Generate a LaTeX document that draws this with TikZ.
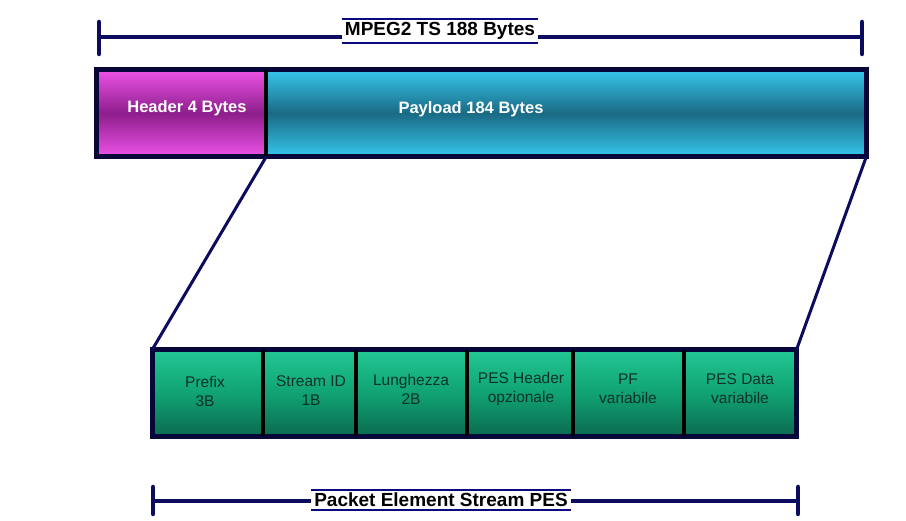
\documentclass[tikz,border=0pt]{standalone}
\usepackage{fontspec}
\setmainfont{Liberation Sans}
\definecolor{navy}{HTML}{0C0C5E}
\definecolor{frame}{HTML}{07073A}
\definecolor{pinkA}{HTML}{EC52E6}
\definecolor{pinkB}{HTML}{8E1E8C}
\definecolor{cyanA}{HTML}{36C6EC}
\definecolor{cyanB}{HTML}{1A6A84}
\definecolor{greenA}{HTML}{22C793}
\definecolor{greenB}{HTML}{10A274}
\definecolor{greenC}{HTML}{0B6A4E}
\definecolor{celltext}{HTML}{0A3326}
\begin{document}
\begin{tikzpicture}[x=1pt,y=-1pt,
  dimline/.style={draw=navy, line width=3.5pt},
  dimcap/.style={draw=navy, line width=4.5pt, line cap=round},
  dimlabel/.style={fill=white, inner xsep=3pt, inner ysep=3pt,
    font=\bfseries\fontsize{19}{21}\selectfont},
  labelrule/.style={draw=navy!80!blue, line width=2pt},
  outerbar/.style={draw=frame, line width=5pt},
  hdrseg/.style={anchor=north west, inner sep=0pt,
    top color=pinkA, bottom color=pinkA, middle color=pinkB},
  payseg/.style={anchor=north west, inner sep=0pt,
    top color=cyanA, bottom color=cyanA, middle color=cyanB},
  cell/.style={anchor=north west, inner sep=0pt, minimum height=86pt,
    top color=greenA, bottom color=greenC, middle color=greenB},
  celllabel/.style={align=center, text=celltext, font=\fontsize{15.5}{19}\selectfont},
  barlabel/.style={text=white, font=\bfseries\fontsize{16.5}{18}\selectfont},
  divider/.style={draw=black, line width=4pt},
  zoomline/.style={draw=navy, line width=3pt}
]
\useasboundingbox[fill=white] (0,0) rectangle (906,521);

% ---- total TS packet length ----
\coordinate (tsL) at (99,37);
\coordinate (tsR) at (862,37);
\node[dimlabel] (tslab) at (440,31) {MPEG2 TS 188 Bytes};
\draw[dimline] (tsL) -- (tslab.west |- tsL);
\draw[dimline] (tslab.east |- tsR) -- (tsR);
\draw[dimcap] ([yshift=-17pt]tsL) -- ([yshift=15pt]tsL);
\draw[dimcap] ([yshift=-17pt]tsR) -- ([yshift=15pt]tsR);
\draw[labelrule] (tslab.north west) -- (tslab.north east);
\draw[labelrule] (tslab.south west) -- (tslab.south east);

% ---- TS packet: header + payload ----
\node[hdrseg, minimum width=170pt, minimum height=86pt] (hdr) at (96,70) {};
\node[payseg, minimum width=600pt, minimum height=86pt] (pay) at (266,70) {};
\draw[outerbar] (hdr.north west) rectangle (pay.south east);
\draw[divider] (hdr.north east) -- (hdr.south east);
\node[barlabel] (hdrtxt) at (187,108) {Header 4 Bytes};
\node[barlabel] (paytxt) at (471,109) {Payload 184 Bytes};

% ---- PES packet fields ----
\node[cell, minimum width=111pt] (c1) at (152,350) {};
\node[cell, minimum width=93pt]  (c2) at (263,350) {};
\node[cell, minimum width=111pt] (c3) at (356,350) {};
\node[cell, minimum width=106pt] (c4) at (467,350) {};
\node[cell, minimum width=111pt] (c5) at (573,350) {};
\node[cell, minimum width=112pt] (c6) at (684,350) {};
\draw[outerbar] (c1.north west) rectangle (c6.south east);
\foreach \c in {c1,c2,c3,c4,c5}
  \draw[divider] (\c.north east) -- (\c.south east);

\node[celllabel] (t1) at (205,391) {Prefix\\3B};
\node[celllabel] (t2) at (311,391) {Stream ID\\1B};
\node[celllabel] (t3) at (411,389) {Lunghezza\\2B};
\node[celllabel] (t4) at (521,389) {PES Header\\opzionale};
\node[celllabel] (t5) at (628,389) {PF\\variabile};
\node[celllabel] (t6) at (740,389) {PES Data\\variabile};

% ---- payload expands into the PES fields ----
\draw[zoomline] (hdr.south east) -- (c1.north west);
\draw[zoomline] (pay.south east) -- (c6.north east);

% ---- PES length ----
\coordinate (peL) at (153,501);
\coordinate (peR) at (798,501);
\node[dimlabel] (pelab) at (441,500) {Packet Element Stream PES};
\draw[dimline] (peL) -- (pelab.west |- peL);
\draw[dimline] (pelab.east |- peR) -- (peR);
\draw[dimcap] ([yshift=-13pt]peL) -- ([yshift=14pt]peL);
\draw[dimcap] ([yshift=-13pt]peR) -- ([yshift=14pt]peR);
\draw[labelrule] (pelab.north west) -- (pelab.north east);
\draw[labelrule] (pelab.south west) -- (pelab.south east);
\end{tikzpicture}
\end{document}
